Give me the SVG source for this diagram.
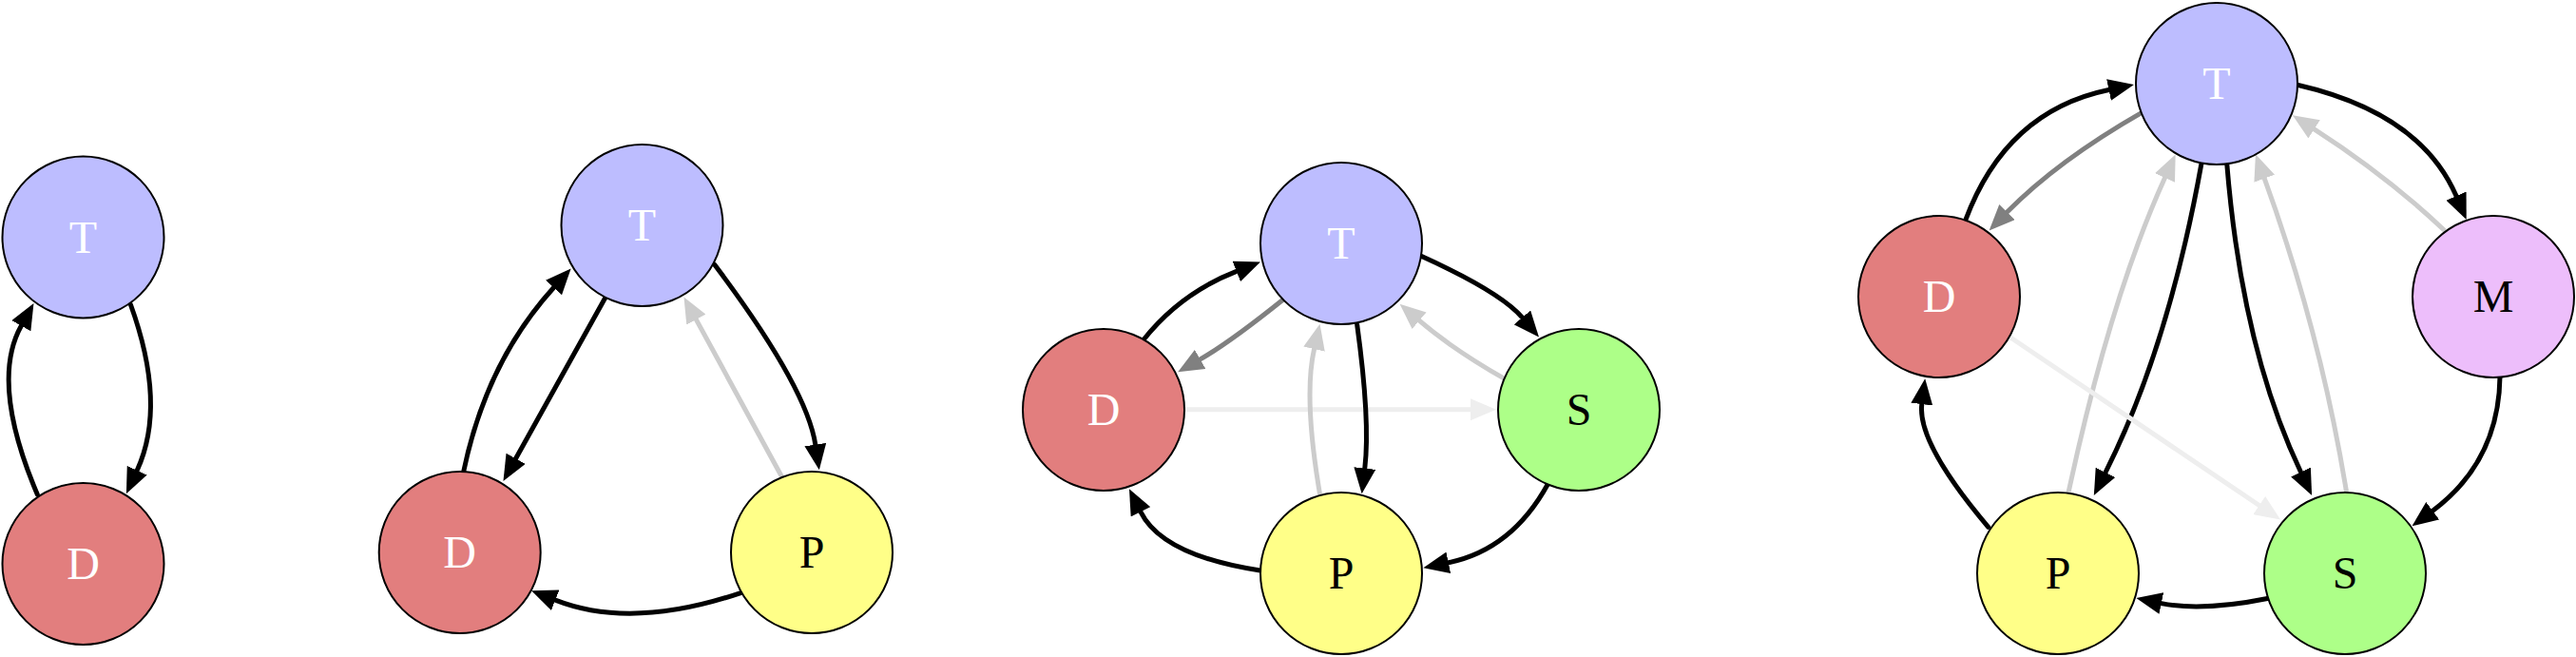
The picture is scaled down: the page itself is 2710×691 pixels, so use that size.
<svg xmlns="http://www.w3.org/2000/svg" width="2710" height="691" viewBox="0 0 2710 691">
<defs>
<style>
.n{stroke:#000;stroke-width:2}
.t{fill:#bdbdff}.d{fill:#e27e7e}.p{fill:#ffff88}.s{fill:#adff88}.m{fill:#edbefb}
.lbl{font-family:"Liberation Serif","Times New Roman",serif;font-size:48px;text-anchor:middle}
.w{fill:#fff}.k{fill:#000}
.e{fill:none;stroke-width:5;stroke-linecap:round}
.b{stroke:#000;marker-end:url(#ab)}
.g{stroke:#808080;marker-end:url(#ag)}
.l{stroke:#cccccc;marker-end:url(#al)}
.v{stroke:#eeeeee;marker-end:url(#av)}
</style>
<marker id="ab" markerUnits="userSpaceOnUse" markerWidth="27" markerHeight="23" refX="0" refY="11.5" orient="auto"><path d="M0,0 L27,11.5 L0,23 z" fill="#000"/></marker>
<marker id="ag" markerUnits="userSpaceOnUse" markerWidth="27" markerHeight="23" refX="0" refY="11.5" orient="auto"><path d="M0,0 L27,11.5 L0,23 z" fill="#808080"/></marker>
<marker id="al" markerUnits="userSpaceOnUse" markerWidth="27" markerHeight="23" refX="0" refY="11.5" orient="auto"><path d="M0,0 L27,11.5 L0,23 z" fill="#cccccc"/></marker>
<marker id="av" markerUnits="userSpaceOnUse" markerWidth="27" markerHeight="23" refX="0" refY="11.5" orient="auto"><path d="M0,0 L27,11.5 L0,23 z" fill="#eeeeee"/></marker>
</defs>
<rect width="2710" height="691" fill="#fff"/>
<g id="connectors">
<path class="e b" d="M39.3,520 Q-10.8,402 22.3,342.7"/>
<path class="e b" d="M137.3,320 Q175.85,426 144.2,494.7"/>
<path class="e b" d="M487.7,496 Q511.5,380.75 582.5,302.5"/>
<path class="e b" d="M751.7,278.3 Q848.65,407.05 857.8,467.6"/>
<path class="e b" d="M636.7,313.3 L542.6,482.3"/>
<path class="e l" d="M821.7,500 L732.4,336.1"/>
<path class="e b" d="M780,623.3 Q664.5,662.75 584.2,631.2"/>
<path class="e b" d="M1202.7,357.7 Q1241.65,308.45 1300.8,285.4"/>
<path class="e g" d="M1350,315 Q1293.7,360.15 1262.6,377.9"/>
<path class="e v" d="M1247,430.7 L1547,430.7"/>
<path class="e b" d="M1427.7,341.7 Q1441.65,442.9 1435.8,492.5"/>
<path class="e l" d="M1388.3,518.3 Q1371.2,417.3 1382.55,367.1"/>
<path class="e b" d="M1495,269.3 Q1578.4,307 1601.4,333.9"/>
<path class="e l" d="M1583.3,398.7 Q1528.4,367.45 1493.1,337.2"/>
<path class="e b" d="M1628.3,509.3 Q1590.55,578.05 1523.8,591.8"/>
<path class="e b" d="M1325.8,600 Q1222.9,584.25 1200,538.3"/>
<path class="e b" d="M2067.7,231.7 Q2110.3,116.9 2218.5,94.5"/>
<path class="e g" d="M2253.3,118.3 Q2164.2,169.3 2111.5,223.1"/>
<path class="e b" d="M2316,171.7 Q2281.1,365.75 2215,496.8"/>
<path class="e b" d="M2342.7,171.7 Q2358.4,365.9 2420.5,496.5"/>
<path class="e l" d="M2176,518.3 Q2219.85,313.95 2277.5,187"/>
<path class="e l" d="M2468.3,516 Q2440.75,348.15 2382.2,187.7"/>
<path class="e b" d="M2416.7,89.3 Q2546.25,118.9 2584,206.1"/>
<path class="e l" d="M2571,241.7 Q2510.6,184.65 2434.6,135.8"/>
<path class="e b" d="M2630,396 Q2628.8,485.4 2559.2,537.2"/>
<path class="e b" d="M2386.7,629.3 Q2316.35,643.45 2273.8,634.6"/>
<path class="e b" d="M2091.7,554.3 Q2016.65,465.7 2021.8,425.1"/>
<path class="e v" d="M2116.7,356 L2376.7,531.5"/>
</g>
<g id="d1-T"><circle class="n t" cx="87.5" cy="249.5" r="85"/><text class="lbl w" x="87.5" y="265.5">T</text></g>
<g id="d1-D"><circle class="n d" cx="87.5" cy="593" r="85"/><text class="lbl w" x="87.5" y="609">D</text></g>
<g id="d2-T"><circle class="n t" cx="675.5" cy="237" r="85"/><text class="lbl w" x="675.5" y="253">T</text></g>
<g id="d2-D"><circle class="n d" cx="483.7" cy="581" r="85"/><text class="lbl w" x="483.7" y="597">D</text></g>
<g id="d2-P"><circle class="n p" cx="854" cy="581" r="85"/><text class="lbl k" x="854" y="597">P</text></g>
<g id="d3-T"><circle class="n t" cx="1411" cy="256" r="85"/><text class="lbl w" x="1411" y="272">T</text></g>
<g id="d3-D"><circle class="n d" cx="1161" cy="431" r="85"/><text class="lbl w" x="1161" y="447">D</text></g>
<g id="d3-S"><circle class="n s" cx="1661" cy="431" r="85"/><text class="lbl k" x="1661" y="447">S</text></g>
<g id="d3-P"><circle class="n p" cx="1411" cy="603" r="85"/><text class="lbl k" x="1411" y="619">P</text></g>
<g id="d4-T"><circle class="n t" cx="2332" cy="88" r="85"/><text class="lbl w" x="2332" y="104">T</text></g>
<g id="d4-D"><circle class="n d" cx="2040" cy="312" r="85"/><text class="lbl w" x="2040" y="328">D</text></g>
<g id="d4-M"><circle class="n m" cx="2623" cy="312" r="85"/><text class="lbl k" x="2623" y="328">M</text></g>
<g id="d4-P"><circle class="n p" cx="2165" cy="603" r="85"/><text class="lbl k" x="2165" y="619">P</text></g>
<g id="d4-S"><circle class="n s" cx="2467" cy="603" r="85"/><text class="lbl k" x="2467" y="619">S</text></g>
</svg>
